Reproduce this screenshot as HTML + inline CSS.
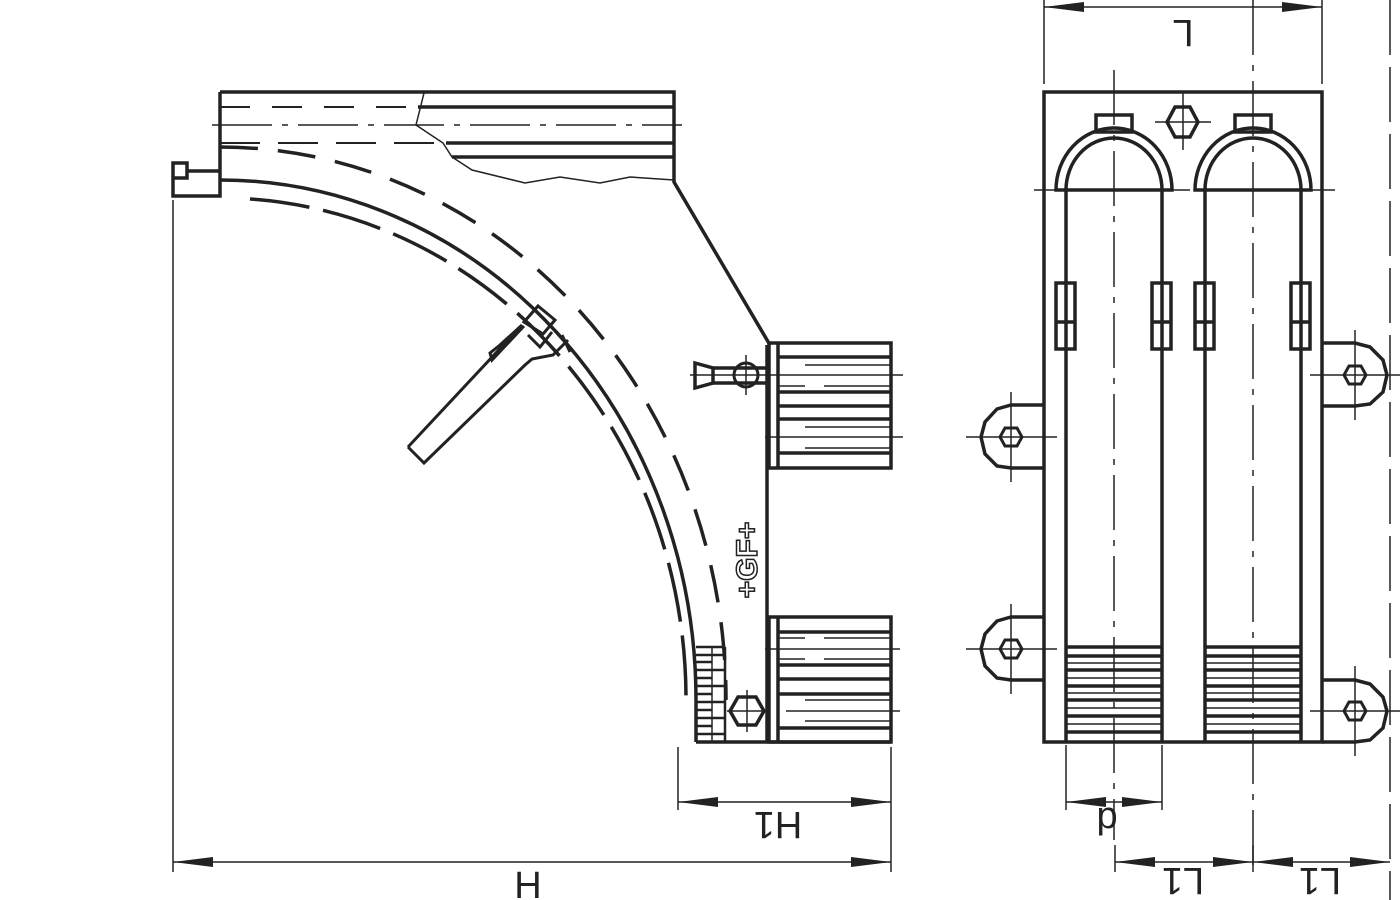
<!DOCTYPE html>
<html><head><style>html,body{margin:0;padding:0;background:#fff;}svg{display:block}</style></head>
<body>
<svg width="1400" height="900" viewBox="0 0 1400 900" xmlns="http://www.w3.org/2000/svg" font-family="Liberation Sans, sans-serif">
<defs>
<marker id="a" viewBox="0 0 40 10" refX="40" refY="5" markerWidth="40" markerHeight="10" markerUnits="userSpaceOnUse" orient="auto-start-reverse"><path d="M0,0 L40,5 L0,10 z" fill="#222"/></marker>
</defs>
<g stroke="#222" fill="none" stroke-linecap="butt">
<!-- LEFT VIEW -->
<g stroke-width="3.5">
<path d="M220,92 L674,92 L674,182 L770,345"/>
<path d="M220,92 L220,196 L173,196 L173,163 L187,163 L187,178 L173,178"/>
<line x1="187" y1="171" x2="220" y2="171"/>
<path d="M418,107 L674,107 M446,143 L674,143 M452,157 L674,157"/>
<line x1="220" y1="107" x2="418" y2="107" stroke-width="2" stroke-dasharray="30,22"/>
<line x1="220" y1="143" x2="446" y2="143" stroke-width="2" stroke-dasharray="40,18"/>
</g>
<path d="M424,93 L416,125 L443,143 L452,157 L472,170 L525,183 L560,177 L600,183 L630,177 L674,180" stroke-width="1.5"/>
<line x1="212" y1="125" x2="682" y2="125" stroke-width="1.5" stroke-dasharray="60,10,6,10"/>
<!-- arcs -->
<path d="M220,180 A476,520 0 0 1 696,700 L696,742" stroke-width="3.5"/>
<path d="M220,147 A506,553 0 0 1 726,700" stroke-width="3.5" stroke-dasharray="38,20"/>
<path d="M250,199 A466,501 0 0 1 686,700" stroke-width="3.5" stroke-dasharray="60,14"/>
<!-- handle -->
<g stroke-width="3">
<path d="M408,447 L424,463 L525,365 L532,359 L553,355 L568,340"/>
<path d="M408,447 L522,325 L500,345 L490,353 L492,360 L524,326"/>
<path d="M524,322 L538,306 L555,320 L543,334 Z"/>
<path d="M528,335 L540,347 L552,332"/>
<line x1="562" y1="335" x2="570" y2="352"/>
</g>
<!-- body right side -->
<g stroke-width="3.5">
<line x1="767" y1="345" x2="767" y2="742"/>
<line x1="696" y1="742" x2="891" y2="742"/>
<rect x="769" y="343" width="122" height="125"/>
<line x1="778" y1="343" x2="778" y2="468"/>
<line x1="778" y1="357" x2="891" y2="357"/><line x1="778" y1="392" x2="891" y2="392"/><line x1="778" y1="406" x2="891" y2="406"/><line x1="778" y1="419" x2="891" y2="419"/><line x1="778" y1="453" x2="891" y2="453"/>
<rect x="769" y="617" width="122" height="125"/>
<line x1="778" y1="617" x2="778" y2="742"/>
<line x1="778" y1="632" x2="891" y2="632"/><line x1="778" y1="665" x2="891" y2="665"/><line x1="778" y1="679" x2="891" y2="679"/><line x1="778" y1="694" x2="891" y2="694"/><line x1="778" y1="728" x2="891" y2="728"/>
</g>
<g stroke-width="1.5">
<line x1="805" y1="365" x2="891" y2="365"/><line x1="778" y1="386" x2="805" y2="386"/><line x1="824" y1="386" x2="891" y2="386"/>
<line x1="805" y1="427" x2="891" y2="427"/><line x1="805" y1="448" x2="891" y2="448"/>
<line x1="690" y1="375" x2="903" y2="375"/><line x1="765" y1="437" x2="903" y2="437"/>
<line x1="778" y1="638" x2="805" y2="638"/><line x1="824" y1="638" x2="891" y2="638"/><line x1="778" y1="659" x2="805" y2="659"/><line x1="824" y1="659" x2="891" y2="659"/>
<line x1="805" y1="700" x2="891" y2="700"/><line x1="805" y1="721" x2="891" y2="721"/>
<line x1="765" y1="649" x2="900" y2="649"/><line x1="786" y1="711" x2="900" y2="711"/>
</g>
<!-- pin -->
<g stroke-width="3.5">
<path d="M695,363 L713,368 L713,383 L695,388 Z"/>
<path d="M713,368 L767,368 M713,383 L767,383"/>
<circle cx="746" cy="375" r="12" stroke-width="3"/>
</g>
<line x1="746" y1="355" x2="746" y2="395" stroke-width="1.5"/>
<!-- comb -->
<g stroke-width="2.5">
<line x1="725" y1="647" x2="725" y2="742"/>
<path d="M696,647 L725,647 M696,655 L724,655 M696,662 L712,662 M696,670 L724,670 M696,678 L712,678 M696,686 L724,686 M696,694 L712,694 M696,702 L724,702 M696,710 L712,710 M696,718 L724,718 M696,726 L712,726 M696,734 L724,734"/>
<path d="M712,647 L712,742" stroke-width="1.5"/>
</g>
<!-- hex bolt -->
<polygon points="738,697 756,697 764,711 756,725 738,725 730,711" stroke-width="3.5"/>
<line x1="747" y1="690" x2="747" y2="732" stroke-width="1.5"/>
<line x1="727" y1="711" x2="765" y2="711" stroke-width="1.5"/>
<!-- dimensions left -->
<g stroke-width="1.5">
<line x1="173" y1="200" x2="173" y2="872"/>
<line x1="891" y1="747" x2="891" y2="872"/>
<line x1="678" y1="747" x2="678" y2="810"/>
<line x1="173" y1="862" x2="891" y2="862" marker-start="url(#a)" marker-end="url(#a)"/>
<line x1="678" y1="802" x2="891" y2="802" marker-start="url(#a)" marker-end="url(#a)"/>
</g>

<!-- RIGHT VIEW -->
<g stroke-width="3.5">
<rect x="1044" y="92" width="278" height="650"/>
<path d="M1056,190 A58,62 0 0 1 1172,190 Z"/>
<path d="M1066,190 A48,52 0 0 1 1162,190"/>
<path d="M1195,190 A58,62 0 0 1 1311,190 Z"/>
<path d="M1205,190 A48,52 0 0 1 1301,190"/>
<rect x="1096" y="115" width="36" height="17"/>
<rect x="1235" y="115" width="36" height="17"/>
<polygon points="1175,107 1190,107 1198,122 1190,137 1175,137 1167,122"/>
<line x1="1066" y1="190" x2="1066" y2="742"/><line x1="1162" y1="190" x2="1162" y2="742"/>
<line x1="1205" y1="190" x2="1205" y2="742"/><line x1="1301" y1="190" x2="1301" y2="742"/>
<rect x="1056" y="283" width="19" height="66"/><line x1="1056" y1="322" x2="1075" y2="322"/>
<rect x="1152" y="283" width="19" height="66"/><line x1="1152" y1="322" x2="1171" y2="322"/>
<rect x="1195" y="283" width="19" height="66"/><line x1="1195" y1="322" x2="1214" y2="322"/>
<rect x="1291" y="283" width="19" height="66"/><line x1="1291" y1="322" x2="1310" y2="322"/>
<!-- ears -->
<path d="M1322,343 L1355,343 L1370,347 L1383,360 L1387,375 L1383,392 L1370,404 L1355,406 L1322,406"/>
<path d="M1044,405 L1011,405 L997,409 L985,422 L981,437 L985,454 L997,466 L1011,468 L1044,468"/>
<path d="M1044,617 L1011,617 L997,621 L985,634 L981,649 L985,666 L997,678 L1011,680 L1044,680"/>
<path d="M1322,680 L1355,680 L1370,684 L1383,697 L1387,711 L1383,728 L1370,740 L1355,742 L1322,742"/>
</g>
<g stroke-width="3">
<polygon points="1005,428 1017,428 1022,437 1017,446 1005,446 1000,437"/>
<polygon points="1005,640 1017,640 1022,649 1017,658 1005,658 1000,649"/>
<polygon points="1349,366 1361,366 1366,375 1361,384 1349,384 1344,375"/>
<polygon points="1349,702 1361,702 1366,711 1361,720 1349,720 1344,711"/>
</g>
<!-- comb bands -->
<g stroke-width="3.5">
<path d="M1066,647H1162M1066,656H1162M1066,670H1162M1066,686H1162M1066,700H1162M1066,716H1162M1066,732H1162"/>
<path d="M1205,647H1301M1205,656H1301M1205,670H1301M1205,686H1301M1205,700H1301M1205,716H1301M1205,732H1301"/>
</g>
<g stroke-width="1.5">
<path d="M1066,663H1162M1066,678H1162M1066,693H1162M1066,708H1162M1066,724H1162"/>
<path d="M1205,663H1301M1205,678H1301M1205,693H1301M1205,708H1301M1205,724H1301"/>
</g>
<!-- center lines -->
<g stroke-width="1.5">
<line x1="1114" y1="70" x2="1114" y2="840" stroke-dasharray="55,10,6,10"/>
<line x1="1253" y1="0" x2="1253" y2="870" stroke-dasharray="55,10,6,10"/>
<line x1="1183" y1="92" x2="1183" y2="150"/>
<line x1="1155" y1="122" x2="1211" y2="122"/>
<line x1="1034" y1="190" x2="1335" y2="190" stroke-dasharray="65,10,6,10"/>
<line x1="1390" y1="0" x2="1390" y2="900" stroke-dasharray="55,12"/>
<line x1="1011" y1="392" x2="1011" y2="482"/><line x1="966" y1="437" x2="1057" y2="437"/>
<line x1="1011" y1="604" x2="1011" y2="694"/><line x1="966" y1="649" x2="1057" y2="649"/>
<line x1="1355" y1="330" x2="1355" y2="420"/><line x1="1310" y1="375" x2="1400" y2="375"/>
<line x1="1355" y1="666" x2="1355" y2="756"/><line x1="1310" y1="711" x2="1400" y2="711"/>
<!-- dims right -->
<line x1="1044" y1="0" x2="1044" y2="84"/><line x1="1322" y1="0" x2="1322" y2="84"/>
<line x1="1044" y1="7" x2="1322" y2="7" marker-start="url(#a)" marker-end="url(#a)"/>
<line x1="1066" y1="745" x2="1066" y2="810"/><line x1="1162" y1="745" x2="1162" y2="810"/>
<line x1="1066" y1="802" x2="1162" y2="802" marker-start="url(#a)" marker-end="url(#a)"/>
<line x1="1115" y1="845" x2="1115" y2="872"/><line x1="1253" y1="845" x2="1253" y2="872"/>
<line x1="1115" y1="862" x2="1253" y2="862" marker-start="url(#a)" marker-end="url(#a)"/>
<line x1="1253" y1="862" x2="1390" y2="862" marker-start="url(#a)" marker-end="url(#a)"/>
</g>
</g>
<!-- texts (rotated 180) -->
<g fill="#222" font-size="38" text-anchor="middle">
<text x="528" y="898">H</text>
<text transform="translate(778,812) rotate(180)">H1</text>
<text transform="translate(1183,20) rotate(180)">L</text>
<text transform="translate(1107,808) rotate(180)">d</text>
<text transform="translate(1183,868) rotate(180)">L1</text>
<text transform="translate(1320,868) rotate(180)">L1</text>
<text transform="translate(757,560) rotate(-90)" font-size="30" font-weight="bold" fill="none" stroke="#222" stroke-width="1.5">+GF+</text>
</g>
</svg>
</body></html>
